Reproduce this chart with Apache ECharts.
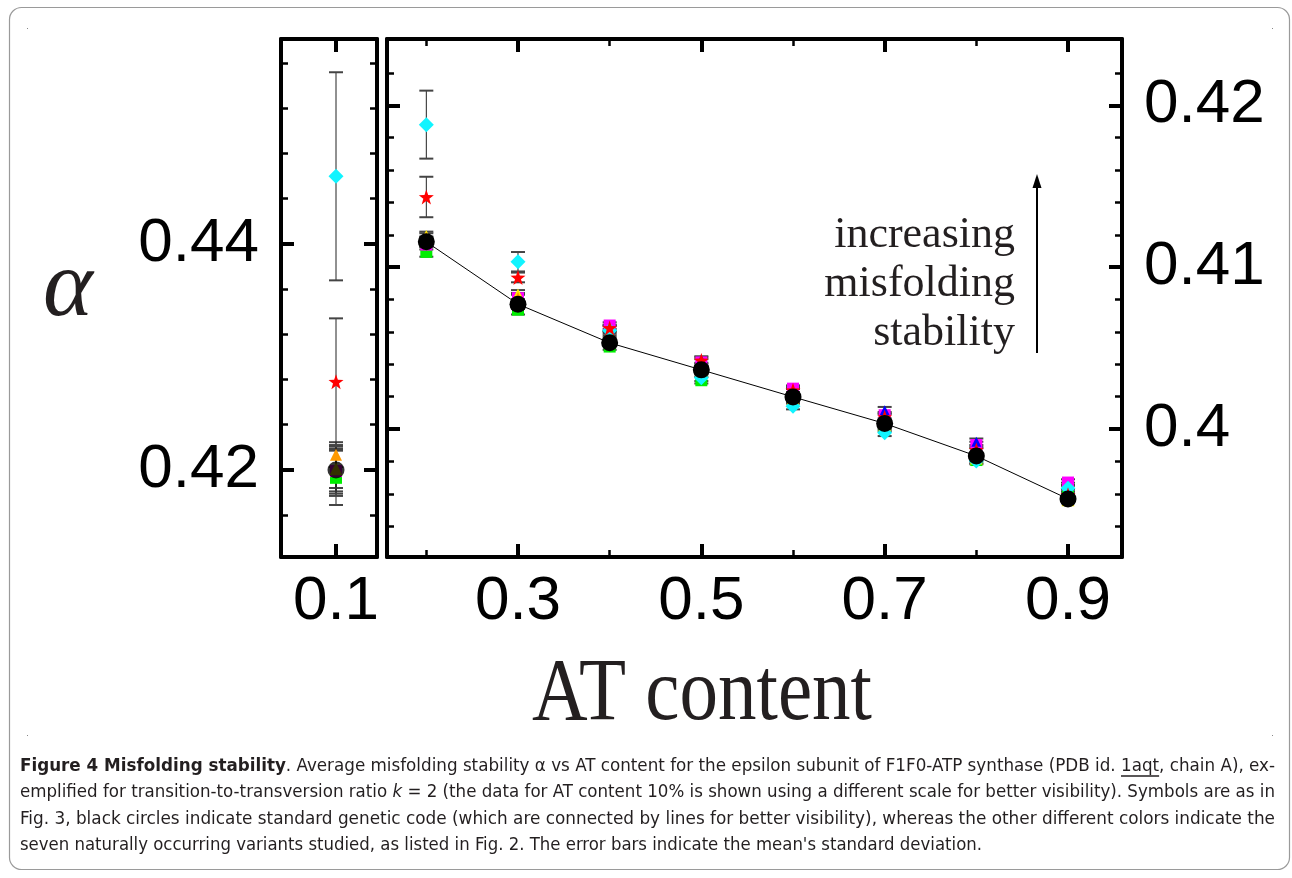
<!DOCTYPE html>
<html><head><meta charset="utf-8">
<script src="https://cdn.jsdelivr.net/npm/echarts@6/dist/echarts.min.js"></script>
<style>html,body{margin:0;padding:0;background:#fff}#c{width:1292px;height:878px}</style>
</head><body><div id="c"></div>
<script>
// ---------- DATA ----------
const atRight = [0.2, 0.3, 0.4, 0.5, 0.6, 0.7, 0.8, 0.9];
const atLeft = [0.1];

// standard genetic code (black circles)
const stdRight = [0.41157, 0.40772, 0.40533, 0.40366, 0.40199, 0.40035, 0.39834, 0.39569];
const stdRightErr = [0.0003, 0.0003, 0.0002, 0.0002, 0.0002, 0.0002, 0.0002, 0.0002];
const stdLeft = [0.4200]; const stdLeftErr = [0.0021];

// variants
const cyanRight = [0.41881, 0.41034, 0.40609, 0.40317, 0.40142, 0.39977, 0.39803, 0.39635];
const cyanRightErr = [0.0021, 0.0006, 0.0003, 0.0002, 0.0002, 0.0002, 0.0002, 0.0002];
const cyanLeft = [0.44596]; const cyanLeftErr = [0.0092];

const redRight = [0.41434, 0.40937, 0.40625, 0.40424, 0.40240, 0.40074, 0.39871, 0.39594];
const redRightErr = [0.00125, 0.0003, 0.0002, 0.0002, 0.0002, 0.0002, 0.0002, 0.0002];
const redLeft = [0.42780]; const redLeftErr = [0.0056];

const orangeRight = [0.41180, 0.40810, 0.40570, 0.40370, 0.40190, 0.40030, 0.39830, 0.39570];
const orangeRightErr = [0.0003, 0.0003, 0.0002, 0.0002, 0.0002, 0.0002, 0.0002, 0.0002];
const orangeLeft = [0.42135]; const orangeLeftErr = [0.0011];

const yellowRight = [0.41190, 0.40829, 0.40588, 0.40360, 0.40185, 0.40025, 0.39822, 0.39563];
const yellowRightErr = [0.0003, 0.0003, 0.0002, 0.0002, 0.0002, 0.0002, 0.0002, 0.0002];
const yellowLeft = [0.42010]; const yellowLeftErr = [0.0017];

const greenRight = [0.41095, 0.40738, 0.40510, 0.40302, 0.40178, 0.40006, 0.39809, 0.39582];
const greenRightErr = [0.0003, 0.0003, 0.0002, 0.0002, 0.0002, 0.0002, 0.0002, 0.0002];
const greenLeft = [0.41930]; const greenLeftErr = [0.0024];

const magentaRight = [0.41140, 0.40809, 0.40640, 0.40412, 0.40250, 0.40086, 0.39902, 0.39670];
const magentaRightErr = [0.0003, 0.0003, 0.0002, 0.0002, 0.0002, 0.0002, 0.0002, 0.0002];
const magentaLeft = [0.41990]; const magentaLeftErr = [0.0022];

const blueRight = [0.41160, 0.40800, 0.40620, 0.40430, 0.40228, 0.40117, 0.39922, 0.39649];
const blueRightErr = [0.0003, 0.0003, 0.0002, 0.0002, 0.0002, 0.0002, 0.0002, 0.0002];
const blueLeft = [0.42000]; const blueLeftErr = [0.0019];

// tick values
const xTicksLeft = [0.1];
const xTicksRight = [0.3, 0.5, 0.7, 0.9];
const xMinorRight = [0.2, 0.4, 0.6, 0.8];
const yTicksLeft = [0.42, 0.44];
const yMinorLeft = [0.416, 0.424, 0.428, 0.432, 0.436, 0.444, 0.448, 0.452, 0.456];
const yTicksRight = [0.40, 0.41, 0.42];
const yMinorRight = [0.394, 0.396, 0.398, 0.402, 0.404, 0.406, 0.408, 0.412, 0.414, 0.416, 0.418, 0.422];

const captionLines = [
  ['Figure 4 Misfolding stability', '. Average misfolding stability \u03b1 vs AT content for the epsilon subunit of F1F0-ATP synthase (PDB id. ', '1aqt', ', chain A), ex-'],
  ['emplified for transition-to-transversion ratio ', 'k', ' = 2 (the data for AT content 10% is shown using a different scale for better visibility). Symbols are as in'],
  ['Fig. 3, black circles indicate standard genetic code (which are connected by lines for better visibility), whereas the other different colors indicate the'],
  ['seven naturally occurring variants studied, as listed in Fig. 2. The error bars indicate the mean\'s standard deviation.']
];

// ---------- LAYOUT ----------
const GL = {left: 281, top: 39, width: 96, height: 518};
const GR = {left: 387, top: 39, width: 735, height: 518};
const LX = [0.0427, 0.1427], LY = [0.4123, 0.4581];
const RX = [0.1571, 0.9589], RY = [0.3921, 0.4241];

const labelFont = {fontFamily: 'Liberation Sans', fontSize: 62, color: '#000'};

function mkAxis(grid, pos, range, ticks, major, labels, lineShow, labelMargin) {
  return {
    type: 'value', gridIndex: grid, position: pos, min: range[0], max: range[1],
    axisLine: {show: lineShow, onZero: false, lineStyle: {color: '#000', width: 4}},
    axisTick: {show: true, inside: true, customValues: ticks, length: major ? 13 : 7,
               lineStyle: {color: '#000', width: major ? 4 : 2.5}},
    axisLabel: {show: labels, customValues: ticks, margin: labelMargin || 8, ...labelFont},
    splitLine: {show: false}
  };
}

const xAxes = [
  mkAxis(0, 'bottom', LX, xTicksLeft, true, true, true, 14),   // 0
  mkAxis(0, 'top', LX, xTicksLeft, true, false, true),         // 1
  mkAxis(1, 'bottom', RX, xTicksRight, true, true, true, 14),  // 2
  mkAxis(1, 'bottom', RX, xMinorRight, false, false, false),   // 3
  mkAxis(1, 'top', RX, xTicksRight, true, false, true),        // 4
  mkAxis(1, 'top', RX, xMinorRight, false, false, false)       // 5
];
const yAxes = [
  mkAxis(0, 'left', LY, yTicksLeft, true, true, true, 22),     // 0
  mkAxis(0, 'left', LY, yMinorLeft, false, false, false),      // 1
  mkAxis(0, 'right', LY, yTicksLeft, true, false, true),       // 2
  mkAxis(0, 'right', LY, yMinorLeft, false, false, false),     // 3
  mkAxis(1, 'left', RY, yTicksRight, true, false, true),       // 4
  mkAxis(1, 'left', RY, yMinorRight, false, false, false),     // 5
  mkAxis(1, 'right', RY, yTicksRight, true, true, true, 22),   // 6
  mkAxis(1, 'right', RY, yMinorRight, false, false, false)     // 7
];

const starPath = 'path://M0,-10L2.35,-3.24L9.51,-3.09L3.8,1.24L5.88,8.09L0,4L-5.88,8.09L-3.8,1.24L-9.51,-3.09L-2.35,-3.24Z';

const variants = [
  {name: 'green', color: '#00ee00', symbol: 'rect', size: 12, L: greenLeft, LE: greenLeftErr, R: greenRight, RE: greenRightErr},
  {name: 'magenta', color: '#ff00ff', symbol: 'rect', size: 12, L: magentaLeft, LE: magentaLeftErr, R: magentaRight, RE: magentaRightErr},
  {name: 'blue', color: '#0000ff', symbol: 'triangle', size: 10, L: blueLeft, LE: blueLeftErr, R: blueRight, RE: blueRightErr},
  {name: 'yellow', color: '#ffee00', symbol: 'triangle', size: 13, L: yellowLeft, LE: yellowLeftErr, R: yellowRight, RE: yellowRightErr},
  {name: 'orange', color: '#ff9900', symbol: 'triangle', size: 12, L: orangeLeft, LE: orangeLeftErr, R: orangeRight, RE: orangeRightErr},
  {name: 'cyan', color: '#11f4ff', symbol: 'diamond', size: 15, L: cyanLeft, LE: cyanLeftErr, R: cyanRight, RE: cyanRightErr},
  {name: 'red', color: '#ff0000', symbol: starPath, size: 15, L: redLeft, LE: redLeftErr, R: redRight, RE: redRightErr}
];
const allSets = variants.concat([{name: 'std', L: stdLeft, LE: stdLeftErr, R: stdRight, RE: stdRightErr}]);

function errRender(params, api) {
  const x = api.value(0), y = api.value(1), e = api.value(2);
  const top = api.coord([x, y + e]), bot = api.coord([x, y - e]);
  const w = 7;
  return {type: 'group', children: [
    {type: 'line', shape: {x1: top[0], y1: top[1], x2: bot[0], y2: bot[1]}, style: {stroke: '#222', lineWidth: 1}},
    {type: 'line', shape: {x1: top[0] - w, y1: top[1], x2: top[0] + w, y2: top[1]}, style: {stroke: '#444', lineWidth: 2}},
    {type: 'line', shape: {x1: bot[0] - w, y1: bot[1], x2: bot[0] + w, y2: bot[1]}, style: {stroke: '#444', lineWidth: 2}}
  ]};
}

const errLeft = [], errRight = [];
allSets.forEach(s => {
  atLeft.forEach((x, i) => errLeft.push([x, s.L[i], s.LE[i]]));
  atRight.forEach((x, i) => errRight.push([x, s.R[i], s.RE[i]]));
});

const series = [
  {type: 'custom', xAxisIndex: 0, yAxisIndex: 0, renderItem: errRender, data: errLeft, z: 1, silent: true},
  {type: 'custom', xAxisIndex: 2, yAxisIndex: 4, renderItem: errRender, data: errRight, z: 1, silent: true}
];
variants.forEach((v, k) => {
  const common = {type: 'scatter', symbol: v.symbol, symbolSize: v.size, itemStyle: {color: v.color, opacity: 1}, z: 2 + k, silent: true};
  series.push(Object.assign({}, common, {xAxisIndex: 0, yAxisIndex: 0, data: atLeft.map((x, i) => [x, v.L[i]])}));
  series.push(Object.assign({}, common, {xAxisIndex: 2, yAxisIndex: 4, data: atRight.map((x, i) => [x, v.R[i]])}));
});
series.push({type: 'scatter', xAxisIndex: 0, yAxisIndex: 0, symbol: 'circle', symbolSize: 17, itemStyle: {color: '#000'}, z: 20, silent: true,
  data: atLeft.map((x, i) => [x, stdLeft[i]])});
series.push({type: 'line', xAxisIndex: 2, yAxisIndex: 4, symbol: 'circle', symbolSize: 17, showAllSymbol: true, itemStyle: {color: '#000'},
  lineStyle: {color: '#000', width: 1}, z: 20, silent: true, animation: false,
  data: atRight.map((x, i) => [x, stdRight[i]])});

// ---------- caption layout ----------
const capFont = '"DejaVu Sans Condensed"';
const capSize = 17.5;
const ctx = document.createElement('canvas').getContext('2d');
function tw(text, weight, style) { ctx.font = (style || 'normal') + ' ' + (weight || 'normal') + ' ' + capSize + 'px ' + capFont; return ctx.measureText(text).width; }
const capLeft = 20, capRight = 1275, capYs = [766, 792, 819, 845];
const capColor = '#231f20';
const graphics = [];

const l1 = captionLines[0];
const w1b = tw(l1[0], 'bold'), w1r = tw(l1[1] + l1[2] + l1[3]);
const s1 = (capRight - capLeft) / (w1b + w1r);
const l2 = captionLines[1];
const w2 = tw(l2[0]) + tw(l2[1], 'normal', 'italic') + tw(l2[2]);
const s2 = (capRight - capLeft) / w2;
const w3 = tw(captionLines[2][0]);
const s3 = (capRight - capLeft) / w3;
const s4 = (982 - capLeft) / tw(captionLines[3][0]);
const richStyles = {
  b: {fontFamily: capFont, fontSize: capSize, fontWeight: 'bold', color: capColor},
  r: {fontFamily: capFont, fontSize: capSize, color: capColor},
  i: {fontFamily: capFont, fontSize: capSize, fontStyle: 'italic', color: capColor}
};
function capText(rich, y, s) {
  return {type: 'text', x: capLeft, y: y, scaleX: s, silent: true,
    style: {text: rich, rich: richStyles, fontFamily: capFont, fontSize: capSize, fill: capColor, verticalAlign: 'middle', align: 'left'}};
}
graphics.push(capText('{b|' + l1[0] + '}{r|' + l1[1] + l1[2] + l1[3] + '}', capYs[0], s1));
graphics.push(capText('{r|' + l2[0] + '}{i|' + l2[1] + '}{r|' + l2[2] + '}', capYs[1], s2));
graphics.push(capText('{r|' + captionLines[2][0] + '}', capYs[2], s3));
graphics.push(capText('{r|' + captionLines[3][0] + '}', capYs[3], s4));
// underline under "1aqt"
const ulx = capLeft + s1 * (w1b + tw(l1[1]));
const ulw = s1 * tw(l1[2]);
graphics.push({type: 'line', silent: true, shape: {x1: ulx, y1: capYs[0] + 10, x2: ulx + ulw, y2: capYs[0] + 10}, style: {stroke: capColor, lineWidth: 1.4}});

// frame
graphics.push({type: 'rect', silent: true, shape: {x: 9.5, y: 7.5, width: 1280, height: 862, r: 12}, style: {fill: 'none', stroke: '#9a9a9a', lineWidth: 1.2}, z: -10});
[[27, 28], [27, 735], [1272, 735], [1272, 28]].forEach(p => graphics.push({type: 'rect', silent: true, shape: {x: p[0], y: p[1], width: 1, height: 1}, style: {fill: '#888'}}));

// alpha and axis title
graphics.push({type: 'text', x: 68, y: 290, silent: true, style: {text: '\u03b1', fontFamily: 'Liberation Serif', fontStyle: 'italic', fontSize: 95, fill: '#231f20', align: 'center', verticalAlign: 'middle'}});
graphics.push({type: 'text', x: 702, y: 696, scaleX: 0.875, silent: true, style: {text: 'AT content', fontFamily: 'Liberation Serif', fontSize: 88, fill: '#231f20', align: 'center', verticalAlign: 'middle'}});
// annotation
['increasing', 'misfolding', 'stability'].forEach((t, i) => graphics.push({type: 'text', x: 1015, y: 235 + i * 49, silent: true,
  style: {text: t, fontFamily: 'Liberation Serif', fontSize: 44, fill: '#231f20', align: 'right', verticalAlign: 'middle'}}));
graphics.push({type: 'line', silent: true, shape: {x1: 1037, y1: 353, x2: 1037, y2: 184}, style: {stroke: '#000', lineWidth: 2}});
graphics.push({type: 'polygon', silent: true, shape: {points: [[1037, 174], [1032.5, 188], [1041.5, 188]]}, style: {fill: '#000'}});

const chart = echarts.init(document.getElementById('c'), null, {renderer: 'canvas'});
chart.setOption({
  animation: false,
  backgroundColor: '#fff',
  grid: [Object.assign({containLabel: false}, GL), Object.assign({containLabel: false}, GR)],
  xAxis: xAxes,
  yAxis: yAxes,
  series: series,
  graphic: graphics
});
</script>
</body></html>
